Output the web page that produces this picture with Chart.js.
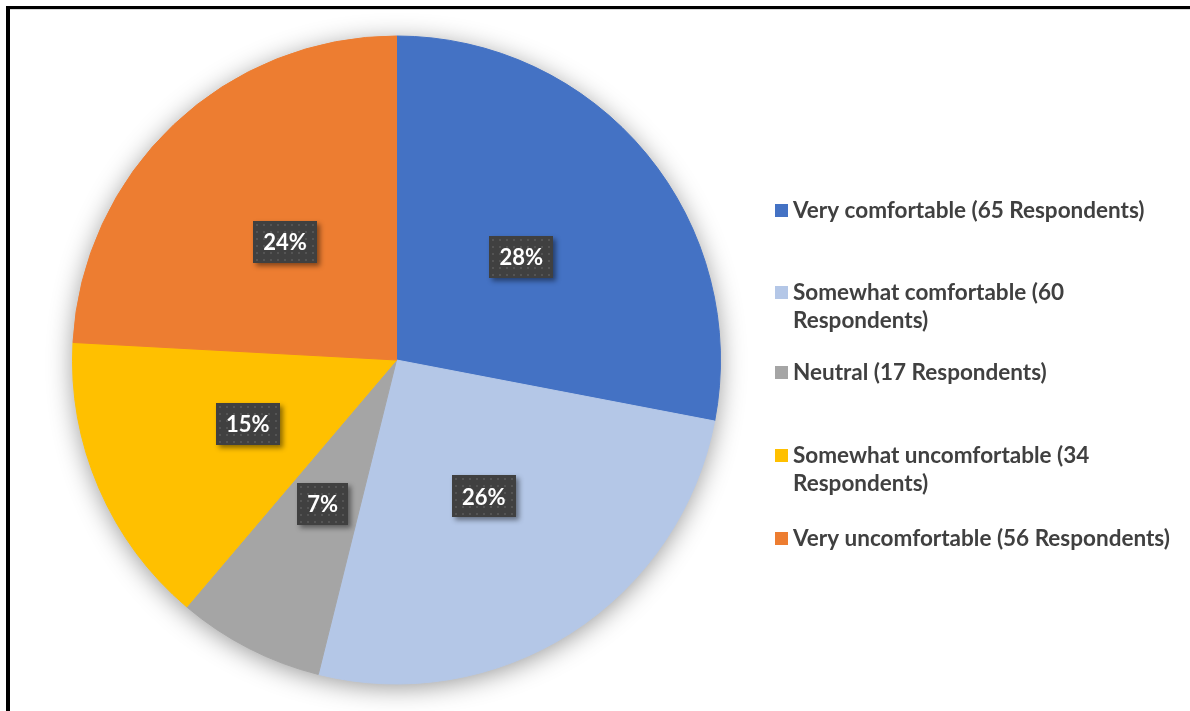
<!DOCTYPE html>
<html>
<head>
<meta charset="utf-8">
<script src="https://cdn.jsdelivr.net/npm/chart.js@4.4.0/dist/chart.umd.min.js"></script>
<style>
html,body{margin:0;padding:0;background:#fff;}
#wrap{position:relative;width:1190px;height:711px;}
canvas{display:block;}
</style>
</head>
<body>
<div id="wrap"><canvas id="c" width="1190" height="711"></canvas></div>
<script>
const categories = [
  "Very comfortable (65 Respondents)",
  "Somewhat comfortable (60 Respondents)",
  "Neutral (17 Respondents)",
  "Somewhat uncomfortable (34 Respondents)",
  "Very uncomfortable (56 Respondents)"
];
const legendLines = [
  ["Very comfortable (65 Respondents)"],
  ["Somewhat comfortable (60", "Respondents)"],
  ["Neutral (17 Respondents)"],
  ["Somewhat uncomfortable (34", "Respondents)"],
  ["Very uncomfortable (56 Respondents)"]
];
const respondents = [65, 60, 17, 34, 56];
const percentLabels = ["28%", "26%", "7%", "15%", "24%"];
const colors = ["#4472C4", "#B4C7E7", "#A5A5A5", "#FFC000", "#ED7D31"];

const FONT = "Lato, 'Open Sans', sans-serif";

function makePattern(ctx) {
  const p = document.createElement('canvas');
  p.width = 7; p.height = 7;
  const pc = p.getContext('2d');
  pc.fillStyle = '#404040';
  pc.fillRect(0, 0, 7, 7);
  pc.fillStyle = '#545454';
  pc.fillRect(3, 3, 2, 2);
  return ctx.createPattern(p, 'repeat');
}

const framePlugin = {
  id: 'frame',
  beforeDatasetsDraw(chart) {
    const ctx = chart.ctx;
    const el = chart.getDatasetMeta(0).data[0];
    if (!el) return;
    const p = el.getProps(['x', 'y', 'outerRadius'], true);
    ctx.save();
    ctx.shadowColor = 'rgba(0,0,0,0.42)';
    ctx.shadowBlur = 26;
    ctx.shadowOffsetY = 4;
    ctx.fillStyle = '#ffffff';
    ctx.beginPath();
    ctx.arc(p.x, p.y, p.outerRadius - 1, 0, Math.PI * 2);
    ctx.fill();
    ctx.restore();
  },
  afterDatasetsDraw(chart) {
    const ctx = chart.ctx;
    const meta = chart.getDatasetMeta(0);
    const pattern = makePattern(ctx);
    ctx.save();
    ctx.font = "bold 22px " + FONT;
    ctx.textAlign = 'center';
    ctx.textBaseline = 'middle';
    meta.data.forEach((el, i) => {
      const pos = el.tooltipPosition(true);
      const txt = percentLabels[i];
      const tw = ctx.measureText(txt).width;
      const w = Math.round(tw + 20), h = 42;
      const x = Math.round(pos.x - w / 2), y = Math.round(pos.y - h / 2);
      ctx.save();
      ctx.shadowColor = 'rgba(0,0,0,0.45)';
      ctx.shadowBlur = 5;
      ctx.shadowOffsetX = 3;
      ctx.shadowOffsetY = 3;
      ctx.fillStyle = '#404040';
      ctx.fillRect(x, y, w, h);
      ctx.restore();
      ctx.save();
      ctx.translate(x, y);
      ctx.fillStyle = pattern;
      ctx.fillRect(0, 0, w, h);
      ctx.restore();
      ctx.fillStyle = '#ffffff';
      ctx.fillText(txt, pos.x, pos.y + 1);
    });
    ctx.restore();
  },
  afterDraw(chart) {
    const ctx = chart.ctx;
    ctx.save();
    ctx.fillStyle = '#000';
    ctx.fillRect(6, 6, 1184, 3);
    ctx.fillRect(6, 6, 4, 705);
    ctx.fillStyle = '#d9d9d9';
    ctx.fillRect(10, 9, 1180, 1);
    const centers = [210, 292, 372, 455, 538];
    ctx.font = "bold 22.5px " + FONT;
    ctx.textBaseline = 'middle';
    ctx.textAlign = 'left';
    legendLines.forEach((lines, i) => {
      const cy = centers[i];
      ctx.fillStyle = colors[i];
      ctx.fillRect(775, cy - 6, 13, 13);
      ctx.fillStyle = '#404040';
      lines.forEach((ln, j) => {
        ctx.fillText(ln, 793, cy + 1 + j * 28);
      });
    });
    ctx.restore();
  }
};

new Chart(document.getElementById('c'), {
  type: 'pie',
  data: {
    labels: categories,
    datasets: [{
      data: respondents,
      backgroundColor: colors,
      borderColor: colors,
      borderWidth: 1
    }]
  },
  options: {
    responsive: false,
    devicePixelRatio: 1,
    animation: false,
    events: [],
    layout: { padding: { left: 72, right: 469, top: 35, bottom: 26 } },
    plugins: {
      legend: { display: false },
      tooltip: { enabled: false },
      title: { display: false }
    }
  },
  plugins: [framePlugin]
});
</script>
</body>
</html>
